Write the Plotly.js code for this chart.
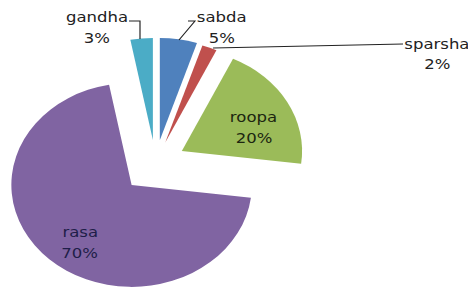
<!DOCTYPE html>
<html>
<head>
<meta charset="utf-8">
<script src="https://cdn.plot.ly/plotly-3.0.1.min.js"></script>
<style>
html,body{margin:0;padding:0;overflow:hidden;background:#fff;width:468px;height:289px;}
#chart{width:397px;height:320px;transform:scaleX(1.1788);transform-origin:0 0;}
</style>
</head>
<body>
<div id="chart"></div>
<script>
var labels = ['sabda', 'sparsha', 'roopa', 'rasa', 'gandha'];
var values = [5, 2, 20, 70, 3];
var colors = ['#4F81BD', '#C0504D', '#9BBB59', '#8064A2', '#4BACC6'];
var pulls = [0.23, 0.22, 0.25, 0.29, 0.23];
var textColors = ['#222', '#222', '#1c2610', '#1e1e48', '#222'];

var W = 397, H = 320, S = 468 / 397;
// convert a point of the 468x289 picture to paper coordinates
function P(x, y) { return {x: x / S / W, y: 1 - y / H}; }

// label placement in picture pixels: name centre, percent centre, optional leader path
var labelPlace = {
  gandha:  {name: [97, 17],  pct: [97, 38],  path: [[129, 21], [140, 21], [140, 39]]},
  sabda:   {name: [222, 17], pct: [222, 38], path: [[188, 21], [195, 21], [179, 40]]},
  sparsha: {name: [437, 44], pct: [437, 64], path: [[403, 44], [213, 48]]},
  roopa:   {name: [253, 117], pct: [254, 138]},
  rasa:    {name: [80, 232], pct: [80, 253]}
};

var annotations = [];
var shapes = [];
labels.forEach(function (lab, i) {
  var o = labelPlace[lab];
  var font = {family: 'DejaVu Sans', size: 14, color: textColors[i]};
  var a = P(o.name[0], o.name[1]);
  var b = P(o.pct[0], o.pct[1]);
  annotations.push({xref: 'paper', yref: 'paper', x: a.x, y: a.y, text: lab,
    showarrow: false, xanchor: 'center', yanchor: 'middle', font: font});
  annotations.push({xref: 'paper', yref: 'paper', x: b.x, y: b.y, text: values[i] + '%',
    showarrow: false, xanchor: 'center', yanchor: 'middle', font: font});
  if (o.path) {
    var d = o.path.map(function (pt, k) {
      var q = P(pt[0], pt[1]);
      return (k === 0 ? 'M' : 'L') + q.x + ',' + q.y;
    }).join(' ');
    shapes.push({type: 'path', xref: 'paper', yref: 'paper', path: d,
      line: {color: '#222', width: 1}});
  }
});

var trace = {
  type: 'pie',
  labels: labels,
  values: values,
  sort: false,
  direction: 'clockwise',
  rotation: 0,
  pull: pulls,
  marker: {colors: colors, line: {width: 0}},
  textinfo: 'none',
  textposition: 'none',
  hoverinfo: 'none',
  showlegend: false,
  domain: {x: [0, 0.6645], y: [0.0784, 0.9009]}
};

var layout = {
  width: W, height: H,
  margin: {l: 0, r: 0, t: 0, b: 0},
  paper_bgcolor: 'rgba(0,0,0,0)',
  showlegend: false,
  annotations: annotations,
  shapes: shapes
};

Plotly.newPlot('chart', [trace], layout, {displayModeBar: false, staticPlot: true});
</script>
</body>
</html>
